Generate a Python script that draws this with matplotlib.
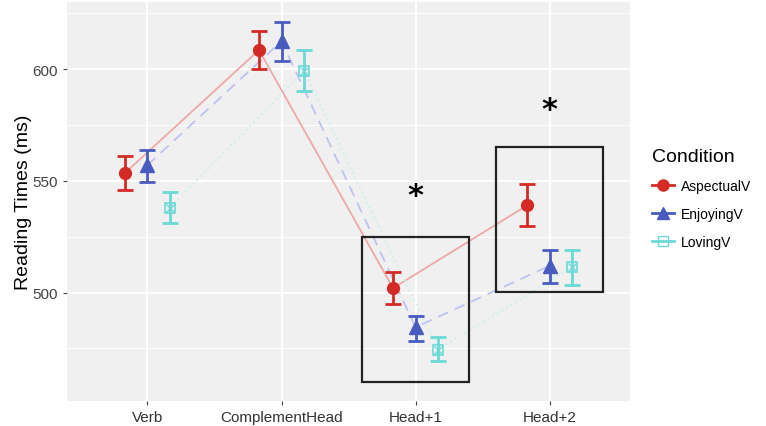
import matplotlib
matplotlib.use("Agg")
import matplotlib.pyplot as plt
from matplotlib.lines import Line2D
from matplotlib.patches import Rectangle
import numpy as np

plt.rcParams["font.family"] = ["Liberation Sans", "DejaVu Sans"]

categories = ["Verb", "ComplementHead", "Head+1", "Head+2"]
conditions = ["AspectualV", "EnjoyingV", "LovingV"]
means = {
    "AspectualV": [553.5, 608.5, 502.0, 539.0],
    "EnjoyingV": [557.0, 612.5, 484.5, 512.0],
    "LovingV": [538.0, 599.0, 474.5, 511.5],
}
lower = {
    "AspectualV": [546.0, 600.0, 495.0, 530.0],
    "EnjoyingV": [549.5, 603.5, 478.5, 504.5],
    "LovingV": [531.0, 590.0, 469.5, 503.5],
}
upper = {
    "AspectualV": [561.0, 617.0, 509.0, 548.5],
    "EnjoyingV": [564.0, 621.0, 489.5, 519.0],
    "LovingV": [545.0, 608.5, 480.0, 519.0],
}
yticks = [500, 550, 600]

colors = {"AspectualV": "#D42A26", "EnjoyingV": "#4A5BBF", "LovingV": "#6BD9D6"}
line_colors = {"AspectualV": "#EDA9A7", "EnjoyingV": "#BCC3F2", "LovingV": "#CBEFEF"}
line_styles = {"AspectualV": "-", "EnjoyingV": (0, (6, 4)), "LovingV": (0, (1, 2))}
offsets = {"AspectualV": -0.168, "EnjoyingV": 0.0, "LovingV": 0.168}

fig = plt.figure(figsize=(7.66, 4.27), dpi=100)
ax = fig.add_axes([0.0875, 0.0585, 0.735, 0.9345])
ax.set_facecolor("#F0F0F0")
x = np.arange(1, len(categories) + 1)

ax.set_xlim(0.4, 4.6)
ax.set_ylim(451.5, 630)
for yv in [475, 525, 575, 625]:
    ax.axhline(yv, color="white", lw=0.7, zorder=0)
for yv in yticks:
    ax.axhline(yv, color="white", lw=1.4, zorder=0)
for xv in x:
    ax.axvline(xv, color="white", lw=1.4, zorder=0)

for c in conditions:
    xs = x + offsets[c]
    m = np.array(means[c])
    ax.plot(xs, m, color=line_colors[c], ls=line_styles[c], lw=1.3, zorder=2)
    yerr = [m - np.array(lower[c]), np.array(upper[c]) - m]
    ax.errorbar(xs, m, yerr=yerr, fmt="none", ecolor=colors[c], elinewidth=2,
                capsize=6, capthick=2, zorder=3)
    if c == "AspectualV":
        ax.plot(xs, m, "o", color=colors[c], ms=8.5, zorder=4)
    elif c == "EnjoyingV":
        ax.plot(xs, m, "^", color=colors[c], ms=9.5, zorder=4)
    else:
        ax.plot(xs, m, "s", mfc="none", mec=colors[c], mew=1.2, ms=7, zorder=4)
        ax.plot(xs, m, "x", color=colors[c], mew=1.0, ms=6, zorder=4)

ax.add_patch(Rectangle((2.6, 460), 0.8, 65, fill=False, ec="#222222", lw=1.6, zorder=5))
ax.add_patch(Rectangle((3.6, 500.3), 0.8, 64.7, fill=False, ec="#222222", lw=1.6, zorder=5))
ax.text(3, 543.3, "*", fontsize=22, ha="center", va="center", fontweight="bold",
        family="DejaVu Sans")
ax.text(4, 581.9, "*", fontsize=22, ha="center", va="center", fontweight="bold",
        family="DejaVu Sans")

ax.set_xticks(x)
ax.set_xticklabels(categories, fontsize=11, color="#333333")
ax.set_yticks(yticks)
ax.set_yticklabels([str(v) for v in yticks], fontsize=11, color="#444444")
ax.tick_params(axis="both", length=3, color="#444444")
ax.set_ylabel("Reading Times (ms)", fontsize=14, color="black", labelpad=0)
for s in ax.spines.values():
    s.set_visible(False)

handles = []
for c in conditions:
    if c == "AspectualV":
        h = Line2D([], [], color=colors[c], lw=2, marker="o", ms=8)
    elif c == "EnjoyingV":
        h = Line2D([], [], color=colors[c], lw=2, marker="^", ms=9)
    else:
        h = Line2D([], [], color=colors[c], lw=2, marker="s", mfc="none", ms=7)
    handles.append(h)
leg = fig.legend(handles, conditions, title="Condition", loc="upper left",
                 bbox_to_anchor=(0.835, 0.68), frameon=False, fontsize=10,
                 title_fontsize=14, handlelength=1.6, handletextpad=0.5,
                 labelspacing=1.0, alignment="left")

fig.savefig("out.png", dpi=100)
